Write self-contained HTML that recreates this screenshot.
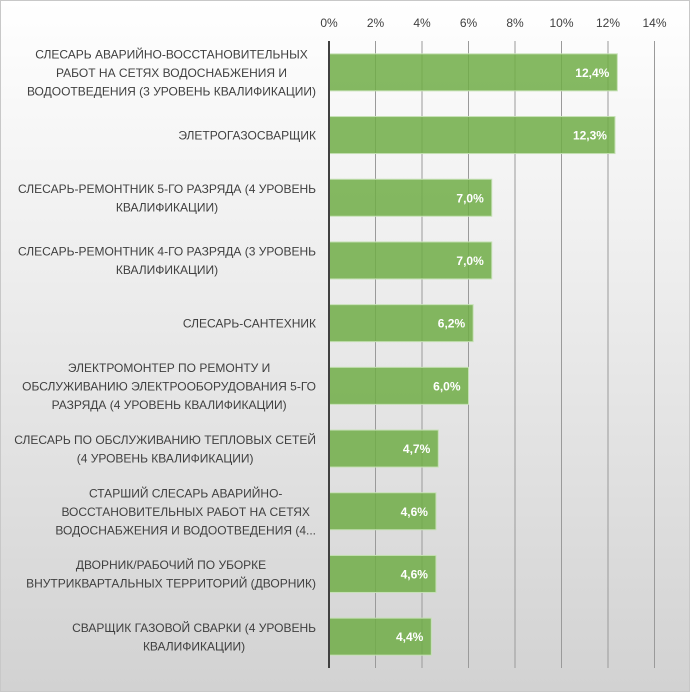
<!DOCTYPE html>
<html><head><meta charset="utf-8"><style>
body{margin:0;width:690px;height:692px;overflow:hidden}
#c{position:absolute;left:0;top:0;width:688px;height:690px;border:1px solid #c8c8c8;background:linear-gradient(#ffffff,#d2d2d2)}
svg{position:absolute;left:0;top:0}
text{font-family:"Liberation Sans","DejaVu Sans",sans-serif}
</style></head><body>
<div id="c"></div>
<svg id="s" width="690" height="692"></svg>
<script>
const categories=[
["СЛЕСАРЬ АВАРИЙНО-ВОССТАНОВИТЕЛЬНЫХ","РАБОТ НА СЕТЯХ ВОДОСНАБЖЕНИЯ И","ВОДООТВЕДЕНИЯ (3 УРОВЕНЬ КВАЛИФИКАЦИИ)"],
["ЭЛЕТРОГАЗОСВАРЩИК"],
["СЛЕСАРЬ-РЕМОНТНИК 5-ГО РАЗРЯДА (4 УРОВЕНЬ","КВАЛИФИКАЦИИ)"],
["СЛЕСАРЬ-РЕМОНТНИК 4-ГО РАЗРЯДА (3 УРОВЕНЬ","КВАЛИФИКАЦИИ)"],
["СЛЕСАРЬ-САНТЕХНИК"],
["ЭЛЕКТРОМОНТЕР ПО РЕМОНТУ И","ОБСЛУЖИВАНИЮ ЭЛЕКТРООБОРУДОВАНИЯ 5-ГО","РАЗРЯДА (4 УРОВЕНЬ КВАЛИФИКАЦИИ)"],
["СЛЕСАРЬ ПО ОБСЛУЖИВАНИЮ ТЕПЛОВЫХ СЕТЕЙ","(4 УРОВЕНЬ КВАЛИФИКАЦИИ)"],
["СТАРШИЙ СЛЕСАРЬ АВАРИЙНО-","ВОССТАНОВИТЕЛЬНЫХ РАБОТ НА СЕТЯХ","ВОДОСНАБЖЕНИЯ И ВОДООТВЕДЕНИЯ (4..."],
["ДВОРНИК/РАБОЧИЙ ПО УБОРКЕ","ВНУТРИКВАРТАЛЬНЫХ ТЕРРИТОРИЙ (ДВОРНИК)"],
["СВАРЩИК ГАЗОВОЙ СВАРКИ (4 УРОВЕНЬ","КВАЛИФИКАЦИИ)"]];
const values=[12.4,12.3,7.0,7.0,6.2,6.0,4.7,4.6,4.6,4.4];
const ticks=[0,2,4,6,8,10,12,14];
const NS="http://www.w3.org/2000/svg";
const s=document.getElementById('s');
const x0=329,pxPer=23.25,yTop=41,yBot=668;
const X=v=>x0+v*pxPer;
const band=(yBot-yTop)/categories.length;
const Y=i=>yTop+band*i+band/2;
function mk(t,a){const e=document.createElementNS(NS,t);for(const k in a)e.setAttribute(k,a[k]);s.appendChild(e);return e;}
ticks.forEach(t=>{
 if(t>0){const g=mk('line',{x1:X(t),x2:X(t),y1:yTop,y2:yBot,stroke:'#9a9a9a','stroke-width':1});
 
 }
 const l=mk('text',{x:X(t),y:27,'text-anchor':'middle','font-size':12,fill:'#404040'});l.textContent=t+'%';
 
 
});
values.forEach((v,i)=>{
 const cy=Y(i);
 const b=mk('rect',{x:x0,y:cy-18.5,width:X(v)-x0,height:37,fill:'rgba(112,173,71,0.85)',stroke:'#c5e0b4','stroke-width':1});
 
 
 const t=mk('text',{x:X(v)-8,y:cy+4.5,'text-anchor':'end','font-size':12,'font-weight':'bold',fill:'#fff'});
 t.textContent=v.toFixed(1).replace('.',',')+'%';
 
 
 const lines=categories[i];
 const els=lines.map((ln,j)=>{
  const c=mk('text',{x:316,y:cy+4.5+(j-(lines.length-1)/2)*18.5,'text-anchor':'middle','font-size':12,fill:'#404040'});
  c.textContent=ln;
  
  
  return c;
 });
 const w=Math.max(...els.map(e=>e.getComputedTextLength()));
 els.forEach(e=>e.setAttribute('x',316-w/2));
});
const ax=mk('line',{x1:x0,x2:x0,y1:yTop,y2:yBot,stroke:'#404040','stroke-width':2});


</script>
</body></html>
